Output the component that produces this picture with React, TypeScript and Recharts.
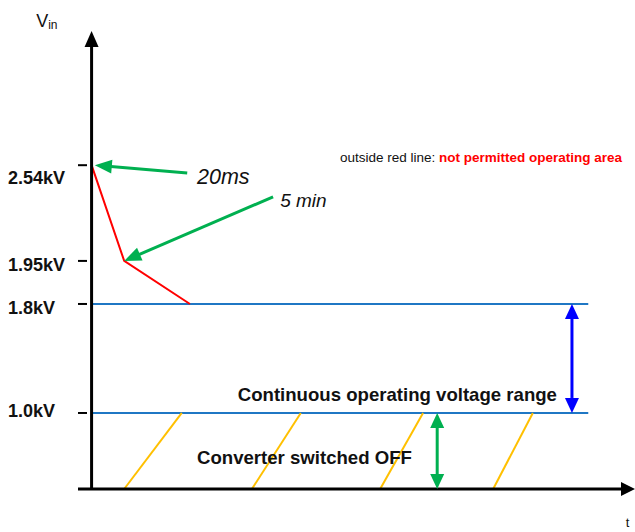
import { LineChart, Line, XAxis, YAxis, ReferenceLine, ReferenceDot } from 'recharts';

// schematic chart: neither axis is to scale, so positions are in schematic units
const levelLabels = ['1.0kV', '1.8kV', '1.95kV', '2.54kV'];
const levelHeights = [16.6, 40.4, 49.8, 70.7];

const redTimes = [0, 6.0, 18.1];
const redHeights = [70.7, 49.8, 40.4];

const rangeEnd = 91.4;
const hatchBottom = [6.0, 29.5, 53.1, 73.9];
const hatchTop = [16.6, 38.5, 61.0, 81.2];

const rangeArrowT = 88.4;
const offArrowT = 63.6;

const note20msFrom = { x: 17.6, y: 69.0 };
const note20msTo = { x: 0.6, y: 70.7 };
const note5minFrom = { x: 33.4, y: 63.8 };
const note5minTo = { x: 6.0, y: 49.8 };

const FONT = '"Liberation Sans", Arial, sans-serif';
const tickNudge = [-2, 4, 4, 13];

const chartData = redTimes.map((t, i) => ({ t, v: redHeights[i] }));

function arrowShape(color: string, width: number, len: number, half: number, both = false) {
  return (p: any) => {
    const { x1, y1, x2, y2 } = p;
    const dx = x2 - x1;
    const dy = y2 - y1;
    const d = Math.sqrt(dx * dx + dy * dy) || 1;
    const ux = dx / d;
    const uy = dy / d;
    const head = (tx: number, ty: number, sx: number, sy: number) => {
      const bx = tx - sx * len;
      const by = ty - sy * len;
      return `${tx},${ty} ${bx - sy * half},${by + sx * half} ${bx + sy * half},${by - sx * half}`;
    };
    const sx0 = both ? x1 + ux * len : x1;
    const sy0 = both ? y1 + uy * len : y1;
    return (
      <g>
        <line x1={sx0} y1={sy0} x2={x2 - ux * (len - 1)} y2={y2 - uy * (len - 1)} stroke={color} strokeWidth={width} />
        <polygon points={head(x2, y2, ux, uy)} fill={color} />
        {both && <polygon points={head(x1, y1, -ux, -uy)} fill={color} />}
      </g>
    );
  };
}

function noteShape(content: React.ReactNode, size: number, opts: any = {}) {
  return (p: any) => (
    <text x={p.cx} y={p.cy} fontFamily={FONT} fontSize={size} dominantBaseline="central" {...opts}>
      {content}
    </text>
  );
}

function LevelTick(props: any) {
  const { x, y, index, payload } = props;
  const label = levelLabels[levelHeights.indexOf(payload.value)] ?? '';
  return (
    <g>
      <line x1={x} y1={y} x2={x + 9} y2={y} stroke="#000" strokeWidth={2} />
      <text x={x - 70} y={y + tickNudge[index]} fontFamily={FONT} fontSize={18} fontWeight="bold" dominantBaseline="central" fill="#111">
        {label}
      </text>
    </g>
  );
}

export default function App() {
  return (
    <div style={{ position: 'absolute', left: 0, top: 0, background: '#fff' }}>
      <LineChart width={635} height={532} data={chartData} margin={{ top: 31, right: 0, bottom: 43, left: 0 }}>
        <XAxis type="number" dataKey="t" domain={[-2.5, 100]} allowDataOverflow hide />
        <YAxis
          type="number"
          domain={[0, 100]}
          allowDataOverflow
          width={78}
          ticks={levelHeights}
          interval={0}
          axisLine={false}
          tickLine={false}
          tickSize={0}
          tickMargin={0}
          tick={<LevelTick />}
        />

        {/* continuous operating range limits */}
        {[levelHeights[1], levelHeights[0]].map((h, i) => (
          <ReferenceLine key={'lim' + i} segment={[{ x: 0, y: h }, { x: rangeEnd, y: h }]} stroke="#1F77C4" strokeWidth={2} />
        ))}

        {/* converter off hatching */}
        {hatchBottom.map((b, i) => (
          <ReferenceLine key={'h' + i} segment={[{ x: b, y: 0 }, { x: hatchTop[i], y: levelHeights[0] }]} stroke="#FFC000" strokeWidth={2} />
        ))}

        <Line dataKey="v" stroke="#FF0000" strokeWidth={2} dot={false} isAnimationActive={false} />

        {/* axes with arrows */}
        <ReferenceLine segment={[{ x: 0, y: 0 }, { x: 0, y: 100 }]} ifOverflow="visible" shape={arrowShape('#000', 3, 16, 7)} />
        <ReferenceLine segment={[{ x: -2.5, y: 0 }, { x: 100, y: 0 }]} ifOverflow="visible" shape={arrowShape('#000', 3, 14, 7)} />

        <ReferenceLine segment={[{ x: rangeArrowT, y: levelHeights[0] }, { x: rangeArrowT, y: levelHeights[1] }]} shape={arrowShape('#0000FF', 3, 15, 7, true)} />
        <ReferenceLine segment={[{ x: offArrowT, y: 0 }, { x: offArrowT, y: levelHeights[0] }]} shape={arrowShape('#00B050', 3, 15, 7, true)} />
        <ReferenceLine segment={[note20msFrom, note20msTo]} ifOverflow="visible" shape={arrowShape('#00B050', 3, 17, 7)} />
        <ReferenceLine segment={[note5minFrom, note5minTo]} ifOverflow="visible" shape={arrowShape('#00B050', 3, 17, 7)} />

        {/* texts */}
        <ReferenceDot x={19.4} y={68.1} r={0} ifOverflow="visible" shape={noteShape('20ms', 21.5, { fontStyle: 'italic', fill: '#111' })} />
        <ReferenceDot x={34.7} y={63.0} r={0} ifOverflow="visible" shape={noteShape('5 min', 19, { fontStyle: 'italic', fill: '#111' })} />
        <ReferenceDot
          x={45.7}
          y={72.5}
          r={0}
          ifOverflow="visible"
          shape={noteShape(
            <>
              <tspan fill="#111">outside red line:  </tspan>
              <tspan fill="#FF0000" fontWeight="bold">not permitted operating area</tspan>
            </>,
            13.5
          )}
        />
        <ReferenceDot x={26.9} y={20.7} r={0} ifOverflow="visible" shape={noteShape('Continuous operating voltage range', 18.6, { fontWeight: 'bold', fill: '#111' })} />
        <ReferenceDot x={19.4} y={6.8} r={0} ifOverflow="visible" shape={noteShape('Converter switched OFF', 18.6, { fontWeight: 'bold', fill: '#111' })} />
        <ReferenceDot
          x={-10.2}
          y={102.2}
          r={0}
          ifOverflow="visible"
          shape={noteShape(
            <>
              <tspan fontSize={18}>V</tspan>
              <tspan fontSize={12} dy={4}>in</tspan>
            </>,
            18,
            { fill: '#111' }
          )}
        />
        <ReferenceDot x={98.3} y={-7.4} r={0} ifOverflow="visible" shape={noteShape('t', 13, { fill: '#111' })} />
      </LineChart>
    </div>
  );
}
